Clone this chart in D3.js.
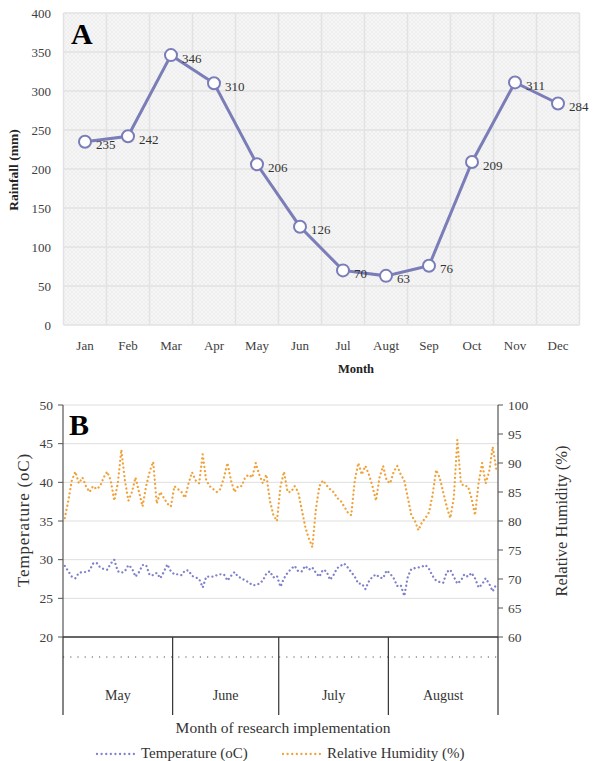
<html>
<head>
	<script src="https://cdn.jsdelivr.net/npm/d3@7"></script>
	<style>
		body { margin:0; background:#fff; }
		text { font-family: "Liberation Serif", "Times New Roman", serif; }
	</style>
</head>
<body>
	<script TYPE="text/javascript">

		// panel A : monthly rainfall
		var months = ["Jan","Feb","Mar","Apr","May","Jun","Jul","Augt","Sep","Oct","Nov","Dec"];
		var rainfall = [235,242,346,310,206,126,70,63,76,209,311,284];
		var rainTicks = [0,50,100,150,200,250,300,350,400];

		// panel B : daily temperature and humidity, May - August
		var periodMonths = ["May","June","July","August"];
		var periodDays = [31,30,31,31];
		var temperature = [
			29.2,28.5,27.8,27.6,28.3,28.4,28.4,28.6,29.5,29.6,29.0,28.8,28.7,29.5,30.0,28.5,28.3,28.5,29.3,28.9,27.8,28.4,29.3,29.3,28.0,28.0,28.3,27.6,28.4,29.4,28.5,
			28.1,28.1,28.0,28.6,28.6,27.9,27.7,27.5,26.4,27.8,27.8,27.8,28.0,28.1,28.1,27.3,27.9,28.4,27.8,27.6,27.3,27.1,26.7,26.7,26.9,27.3,28.2,28.5,27.7,27.9,
			26.5,27.6,28.3,28.8,29.2,28.5,28.5,29.2,28.7,29.0,28.3,27.8,28.7,28.5,27.4,28.0,28.9,29.2,29.5,29.0,28.4,27.8,26.9,26.9,26.2,27.2,27.8,28.1,27.7,27.6,28.6,
			28.2,27.6,26.6,26.7,25.3,27.8,28.8,28.9,29.0,29.1,29.3,28.8,27.9,27.3,27.1,27.0,28.4,28.7,27.8,26.9,27.3,28.1,27.8,28.3,27.6,26.4,26.8,27.6,26.9,25.9,26.8
		];
		var humidity = [
			80.5,83.5,87.0,88.5,86.5,87.5,86.0,85.0,86.0,85.5,86.0,87.5,88.5,87.0,83.5,86.5,92.3,87.0,83.5,85.0,87.5,85.0,82.5,86.0,88.5,90.2,83.0,85.0,84.0,83.0,82.5,
			86.0,85.5,85.0,84.0,86.5,88.4,87.0,86.5,91.5,87.0,86.0,85.5,85.0,85.5,87.5,90.0,87.0,85.0,86.0,86.0,87.5,88.0,87.5,90.0,88.0,86.5,88.0,83.5,81.0,80.0,
			86.0,88.5,85.0,85.0,86.0,85.0,82.0,79.0,77.0,75.5,82.0,86.0,87.0,86.2,85.5,85.0,84.0,83.5,82.5,81.5,81.0,87.0,90.0,88.0,89.5,88.0,86.0,83.5,87.5,89.5,87.0,
			86.5,88.5,89.5,88.0,87.0,84.0,81.0,80.0,78.4,79.8,80.5,81.5,84.5,88.8,87.5,85.0,82.5,80.5,84.0,94.0,86.5,86.0,86.0,84.0,81.0,86.5,90.0,86.5,88.5,92.8,89.0
		];
		var tempTicks = [20,25,30,35,40,45,50];
		var humTicks = [60,65,70,75,80,85,90,95,100];

		var rainColor = "#7a7db8";
		var tempColor = "#7f82c8";
		var humColor = "#f0a23a";

		var svg = d3.select("body").append("svg")
			.attr("width",594)
			.attr("height",761);

		// ---------- panel A ----------
		var defs = svg.append("defs");
		var pat = defs.append("pattern")
			.attr("id","hatch")
			.attr("width",4).attr("height",4)
			.attr("patternUnits","userSpaceOnUse");
		pat.append("rect").attr("width",4).attr("height",4).attr("fill","#f6f6f6");
		pat.append("path").attr("d","M0,4 L4,0 M0,0 L4,4").attr("stroke","#ebebeb").attr("stroke-width",0.7);

		var xA = d3.scaleBand().domain(months).range([63.5,579.5]);
		var yA = d3.scaleLinear().domain([0,400]).range([325,13]);

		var gA = svg.append("g");
		gA.append("rect")
			.attr("x",xA.range()[0]).attr("y",yA(400))
			.attr("width",xA.range()[1]-xA.range()[0])
			.attr("height",yA(0)-yA(400))
			.attr("fill","url(#hatch)");

		gA.selectAll(".hgrid")
			.data(rainTicks)
			.enter().append("line")
			.attr("x1",xA.range()[0]).attr("x2",xA.range()[1])
			.attr("y1",function(d){ return yA(d); })
			.attr("y2",function(d){ return yA(d); })
			.attr("stroke","#e2e2e2").attr("stroke-width",1.5);

		gA.selectAll(".vgrid")
			.data(months.concat(["end"]))
			.enter().append("line")
			.attr("x1",function(d,i){ return xA.range()[0] + i*xA.bandwidth(); })
			.attr("x2",function(d,i){ return xA.range()[0] + i*xA.bandwidth(); })
			.attr("y1",yA(400)).attr("y2",yA(0))
			.attr("stroke","#e2e2e2").attr("stroke-width",1.5);

		gA.selectAll(".ytick")
			.data(rainTicks)
			.enter().append("text")
			.attr("x",51)
			.attr("y",function(d){ return yA(d); })
			.attr("dy","0.35em")
			.attr("text-anchor","end")
			.attr("font-size",13)
			.attr("fill","#404040")
			.text(function(d){ return d; });

		gA.selectAll(".xtick")
			.data(months)
			.enter().append("text")
			.attr("x",function(d){ return xA(d)+xA.bandwidth()/2; })
			.attr("y",350)
			.attr("text-anchor","middle")
			.attr("font-size",13)
			.attr("fill","#404040")
			.text(function(d){ return d; });

		var lineA = d3.line()
			.x(function(d,i){ return xA(months[i])+xA.bandwidth()/2; })
			.y(function(d){ return yA(d); });

		gA.append("path")
			.datum(rainfall)
			.attr("d",lineA)
			.attr("fill","none")
			.attr("stroke",rainColor)
			.attr("stroke-width",3);

		gA.selectAll("circle")
			.data(rainfall)
			.enter().append("circle")
			.attr("cx",function(d,i){ return xA(months[i])+xA.bandwidth()/2; })
			.attr("cy",function(d){ return yA(d); })
			.attr("r",6)
			.attr("fill","#fff")
			.attr("stroke",rainColor)
			.attr("stroke-width",2);

		gA.selectAll(".lbl")
			.data(rainfall)
			.enter().append("text")
			.attr("x",function(d,i){ return xA(months[i])+xA.bandwidth()/2 + 11; })
			.attr("y",function(d){ return yA(d) + 3; })
			.attr("dy","0.35em")
			.attr("font-size",13)
			.attr("fill","#333")
			.text(function(d){ return d; });

		gA.append("text")
			.attr("x",71).attr("y",44)
			.attr("font-size",30).attr("font-weight","bold")
			.text("A");

		gA.append("text")
			.attr("transform","translate(18,170) rotate(-90)")
			.attr("text-anchor","middle")
			.attr("font-size",13.5).attr("font-weight","bold")
			.attr("fill","#222")
			.text("Rainfall  (mm)");

		gA.append("text")
			.attr("x",356).attr("y",373)
			.attr("text-anchor","middle")
			.attr("font-size",12.5).attr("font-weight","bold")
			.attr("fill","#222")
			.text("Month");

		// ---------- panel B ----------
		var xB = d3.scaleBand().domain(d3.range(temperature.length)).range([63,498]);
		var yT = d3.scaleLinear().domain([20,50]).range([637,405]);
		var yH = d3.scaleLinear().domain([60,100]).range([637,405]);

		var gB = svg.append("g");

		gB.selectAll(".tgrid")
			.data(tempTicks.slice(1))
			.enter().append("line")
			.attr("x1",63).attr("x2",498)
			.attr("y1",function(d){ return yT(d); })
			.attr("y2",function(d){ return yT(d); })
			.attr("stroke","#dedede").attr("stroke-width",1);

		// left axis
		gB.append("line").attr("x1",63).attr("x2",63).attr("y1",yT(50)).attr("y2",yT(20))
			.attr("stroke","#555").attr("stroke-width",1.2);
		gB.selectAll(".ttick")
			.data(tempTicks)
			.enter().append("line")
			.attr("x1",58).attr("x2",63)
			.attr("y1",function(d){ return yT(d); })
			.attr("y2",function(d){ return yT(d); })
			.attr("stroke","#555");
		gB.selectAll(".tlab")
			.data(tempTicks)
			.enter().append("text")
			.attr("x",53)
			.attr("y",function(d){ return yT(d); })
			.attr("dy","0.35em")
			.attr("text-anchor","end")
			.attr("font-size",13.5)
			.attr("fill","#404040")
			.text(function(d){ return d; });

		// right axis
		gB.append("line").attr("x1",498).attr("x2",498).attr("y1",yH(100)).attr("y2",yH(60))
			.attr("stroke","#555").attr("stroke-width",1.2);
		gB.selectAll(".htick")
			.data(humTicks)
			.enter().append("line")
			.attr("x1",498).attr("x2",503)
			.attr("y1",function(d){ return yH(d); })
			.attr("y2",function(d){ return yH(d); })
			.attr("stroke","#555");
		gB.selectAll(".hlab")
			.data(humTicks)
			.enter().append("text")
			.attr("x",508)
			.attr("y",function(d){ return yH(d); })
			.attr("dy","0.35em")
			.attr("font-size",13.5)
			.attr("fill","#404040")
			.text(function(d){ return d; });

		// category axis with month groups
		gB.append("line").attr("x1",63).attr("x2",498).attr("y1",637).attr("y2",637)
			.attr("stroke","#333").attr("stroke-width",1.3);
		gB.append("line").attr("x1",63).attr("x2",498).attr("y1",657).attr("y2",657)
			.attr("stroke","#555").attr("stroke-width",1.2)
			.attr("stroke-dasharray","1.2,6");

		var bounds = [0];
		periodDays.forEach(function(n,i){ bounds.push(bounds[i]+n); });
		function edge(k){ return k >= temperature.length ? xB.range()[1] : xB(k); }

		gB.selectAll(".mdiv")
			.data(bounds)
			.enter().append("line")
			.attr("x1",function(d){ return edge(d); })
			.attr("x2",function(d){ return edge(d); })
			.attr("y1",637).attr("y2",715)
			.attr("stroke","#333").attr("stroke-width",1.2);

		gB.selectAll(".mlab")
			.data(periodMonths)
			.enter().append("text")
			.attr("x",function(d,i){ return (edge(bounds[i])+edge(bounds[i+1]))/2; })
			.attr("y",700)
			.attr("text-anchor","middle")
			.attr("font-size",14)
			.attr("fill","#333")
			.text(function(d){ return d; });

		var lineT = d3.line()
			.x(function(d,i){ return xB(i)+xB.bandwidth()/2; })
			.y(function(d){ return yT(d); });
		var lineH = d3.line()
			.x(function(d,i){ return xB(i)+xB.bandwidth()/2; })
			.y(function(d){ return yH(d); });

		gB.append("path")
			.datum(temperature)
			.attr("d",lineT)
			.attr("fill","none")
			.attr("stroke",tempColor)
			.attr("stroke-width",2.3)
			.attr("stroke-linecap","round")
			.attr("stroke-dasharray","0.01,4.2");

		gB.append("path")
			.datum(humidity)
			.attr("d",lineH)
			.attr("fill","none")
			.attr("stroke",humColor)
			.attr("stroke-width",2.3)
			.attr("stroke-linecap","round")
			.attr("stroke-dasharray","0.01,4.2");

		gB.append("text")
			.attr("x",69).attr("y",435)
			.attr("font-size",30).attr("font-weight","bold")
			.text("B");

		gB.append("text")
			.attr("transform","translate(29,520) rotate(-90)")
			.attr("text-anchor","middle")
			.attr("font-size",17)
			.attr("letter-spacing",0.8)
			.attr("fill","#333")
			.text("Temperature (oC)");

		gB.append("text")
			.attr("transform","translate(567,521) rotate(-90)")
			.attr("text-anchor","middle")
			.attr("font-size",16.5)
			.attr("fill","#333")
			.text("Relative Humidity (%)");

		gB.append("text")
			.attr("x",283).attr("y",733)
			.attr("text-anchor","middle")
			.attr("font-size",15.5)
			.attr("fill","#333")
			.text("Month of research implementation");

		// legend
		var legend = [
			{ name:"Temperature (oC)", color:tempColor, x:97 },
			{ name:"Relative Humidity (%)", color:humColor, x:283 }
		];
		var lg = gB.selectAll(".leg")
			.data(legend)
			.enter().append("g");
		lg.append("line")
			.attr("x1",function(d){ return d.x; })
			.attr("x2",function(d){ return d.x + 40; })
			.attr("y1",754).attr("y2",754)
			.attr("stroke",function(d){ return d.color; })
			.attr("stroke-width",2.3)
			.attr("stroke-linecap","round")
			.attr("stroke-dasharray","0.01,4.6");
		lg.append("text")
			.attr("x",function(d){ return d.x + 44; })
			.attr("y",758)
			.attr("font-size",15)
			.attr("fill","#333")
			.text(function(d){ return d.name; });

	</script>
</body>
</html>
